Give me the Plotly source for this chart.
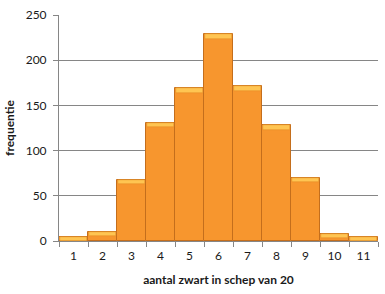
import plotly.graph_objects as go

categories = ["1", "2", "3", "4", "5", "6", "7", "8", "9", "10", "11"]
frequencies = [4, 10, 68, 131, 169, 229, 171, 128, 70, 8, 4]
y_ticks = [0, 50, 100, 150, 200, 250]
cap = 5

body_vals = [max(v - cap, 0) for v in frequencies]
cap_vals = [v - b for v, b in zip(frequencies, body_vals)]

fig = go.Figure()
fig.add_trace(go.Bar(
    x=categories, y=frequencies,
    marker=dict(color="#F7962E", line=dict(color="#C46E1C", width=1)),
    width=1.0, hoverinfo="skip",
))
fig.add_trace(go.Bar(
    x=categories, y=cap_vals, base=body_vals,
    marker=dict(color="#FFC552", line=dict(color="#E08A25", width=0.5)),
    width=0.94, hoverinfo="skip",
))

font = "Lato, 'Open Sans', sans-serif"
fig.update_layout(
    width=385, height=294,
    margin=dict(l=59, r=7, t=13, b=53),
    paper_bgcolor="white", plot_bgcolor="white",
    showlegend=False, barmode="overlay", bargap=0,
    font=dict(family=font, size=12, color="#1a1a1a"),
    xaxis=dict(
        type="category", showgrid=False, showline=True, linecolor="#868686",
        ticks="outside", ticklen=5, tickcolor="#868686", tickson="boundaries",
        ticklabelstandoff=4,
        title=dict(text="<b>aantal zwart in schep van 20</b>", font=dict(size=12), standoff=13),
        range=[-0.5, 10.5],
    ),
    yaxis=dict(
        range=[0, 250], tickvals=y_ticks, showgrid=True, gridcolor="#868686", gridwidth=1,
        showline=True, linecolor="#868686", ticks="outside", ticklen=5, tickcolor="#868686",
        zeroline=False, ticklabelstandoff=4,
        title=dict(text="<b>frequentie</b>", font=dict(size=12), standoff=8),
    ),
)

fig.write_html("out.html")
